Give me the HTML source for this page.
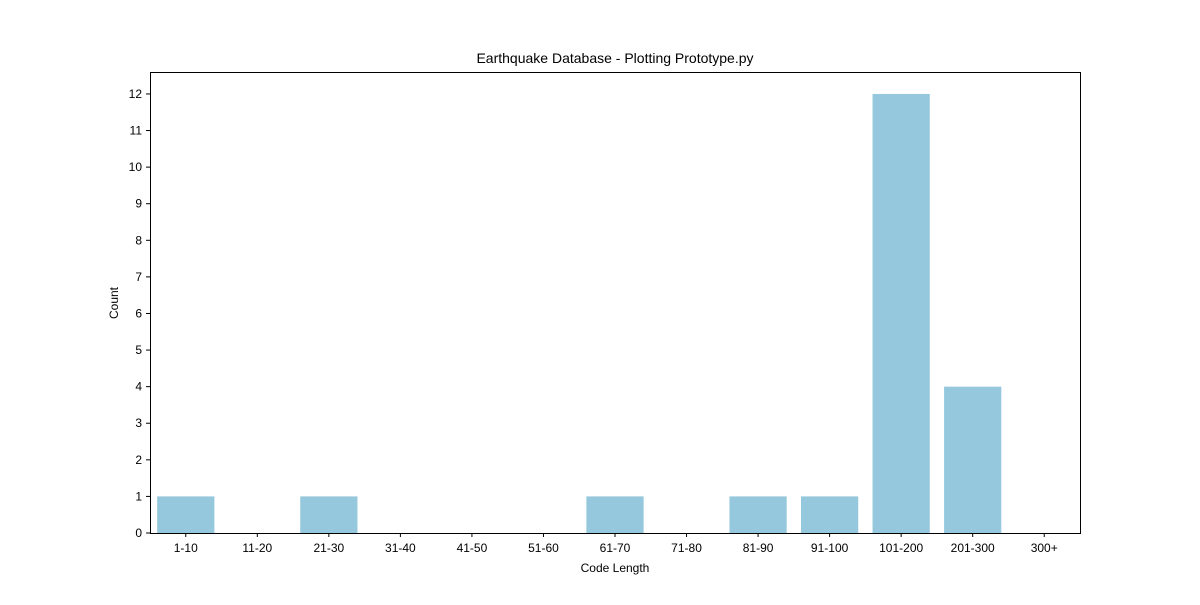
<!DOCTYPE html>
<html><head><meta charset="utf-8"><style>
body{margin:0;background:#fff;}
svg text{font-family:"Liberation Sans",sans-serif;fill:#000;}
</style></head><body>
<svg id="chart" width="1200" height="600" xmlns="http://www.w3.org/2000/svg">
<rect width="1200" height="600" fill="#fff"/>
<text x="615" y="63" font-size="14" text-anchor="middle">Earthquake Database - Plotting Prototype.py</text>
<g id="bars"></g>
<g id="axes"></g>
<rect x="150.5" y="72.5" width="930" height="461" fill="none" stroke="#000" stroke-width="1"/>
<text x="615" y="572" font-size="12" text-anchor="middle">Code Length</text>
<text x="118" y="303" font-size="12" text-anchor="middle" transform="rotate(-90 118 303)">Count</text>
</svg>
<script>
const categories=["1-10","11-20","21-30","31-40","41-50","51-60","61-70","71-80","81-90","91-100","101-200","201-300","300+"];
const counts=[1,0,1,0,0,0,1,0,1,1,12,4,0];
const yTicks=[0,1,2,3,4,5,6,7,8,9,10,11,12];
const L=150,R=1080,T=72,B=533,yMax=12.6;
const ns="http://www.w3.org/2000/svg";
const xs=i=>L+(i+0.5)*(R-L)/categories.length;
const ys=v=>B-v*(B-T)/yMax;
const bw=0.8*(R-L)/categories.length;
const bars=document.getElementById('bars'),axes=document.getElementById('axes');
function mk(t,a){const e=document.createElementNS(ns,t);for(const k in a)e.setAttribute(k,a[k]);return e;}
categories.forEach((c,i)=>{
 const r=mk('rect',{x:xs(i)-bw/2,y:ys(counts[i]),width:bw,height:B-ys(counts[i]),fill:'#95c8dc'});
 
 
 bars.appendChild(r);
 const tk=mk('line',{x1:xs(i),x2:xs(i),y1:B,y2:B+4,stroke:'#000'});
 
 
 axes.appendChild(tk);
 const t=mk('text',{x:xs(i),y:B+19,'font-size':12,'text-anchor':'middle'});
 t.textContent=c;
 
 
 axes.appendChild(t);
});
yTicks.forEach(v=>{
 const tk=mk('line',{x1:L-4,x2:L,y1:ys(v),y2:ys(v),stroke:'#000'});
 
 
 axes.appendChild(tk);
 const t=mk('text',{x:L-8,y:ys(v)+4,'font-size':12,'text-anchor':'end'});
 t.textContent=v;
 
 
 axes.appendChild(t);
});
</script>
</body></html>
